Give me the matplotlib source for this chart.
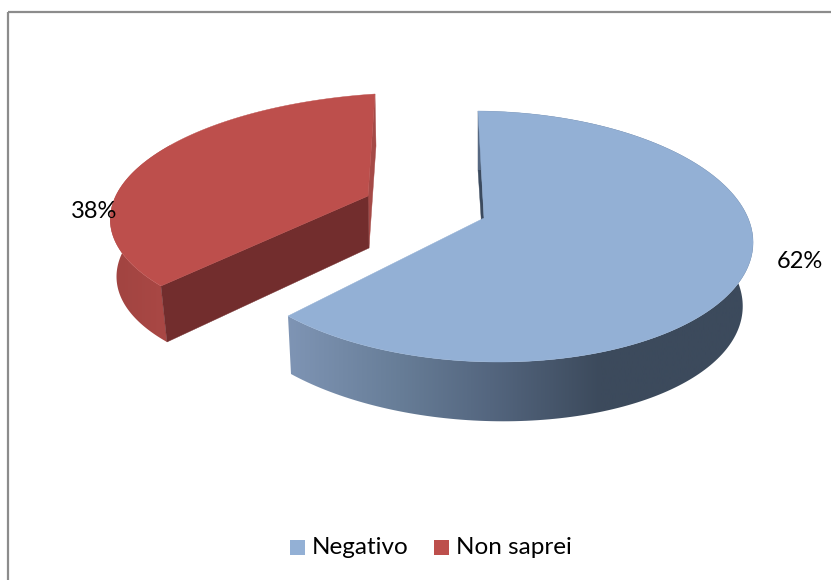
import matplotlib
matplotlib.use('Agg')
import matplotlib.pyplot as plt
from matplotlib.colors import LinearSegmentedColormap
from matplotlib.patches import Polygon, Rectangle
import numpy as np

labels = ['Negativo', 'Non saprei']
shares = [62, 38]


def fit_view(pic):
    # homography from pie plane (centre, 12 o'clock, slice end, side point) to the picture
    src, dst = zip(*pic)
    rows, rhs = [], []
    for (x, y), (u, v) in zip(src, dst):
        rows.append([x, y, 1, 0, 0, 0, -u * x, -u * y])
        rows.append([0, 0, 0, x, y, 1, -v * x, -v * y])
        rhs += [u, v]
    h = np.linalg.solve(np.array(rows, float), np.array(rhs, float))
    return np.append(h, 1).reshape(3, 3)


def rim(deg):
    t = np.radians(deg)
    return np.array([np.sin(t), np.cos(t)])


def project(h, pts):
    pts = np.atleast_2d(pts)
    p = h @ np.c_[pts, np.ones(len(pts))].T
    return (p[:2] / p[2]).T


def arc(h, start, stop):
    return project(h, np.array([rim(a) for a in np.linspace(start, stop, 200)]))


cut = shares[0] / sum(shares) * 360

top_a = fit_view([((0, 0), (484, 218)), (rim(0), (478, 111)), (rim(cut), (288, 316)), (rim(90), (749, 220.5))])
low_a = fit_view([((0, 0), (485, 278)), (rim(0), (478, 170)), (rim(cut), (291, 374)), (rim(90), (739, 285))])
top_b = fit_view([((0, 0), (368, 196)), (rim(0), (375, 94)), (rim(cut), (161, 286)), (rim(270), (114, 200))])
low_b = fit_view([((0, 0), (369, 248)), (rim(0), (376, 146)), (rim(cut), (167, 342)), (rim(270), (120, 258))])

fig = plt.figure(figsize=(8.31, 5.8), dpi=100)
ax = fig.add_axes([0, 0, 1, 1])

ax.add_patch(Rectangle((8, 12), 900, 700, fill=False, ec='#8c8c8c', lw=1.6))


def cut_face(top, low, angle, color, zorder=1):
    a = project(top, [(0, 0), rim(angle)])
    b = project(low, [rim(angle), (0, 0)])
    ax.add_patch(Polygon(np.r_[a, b], fc=color, ec=color, lw=0.3, zorder=zorder))


def outer_wall(top, low, start, stop, stops, zorder):
    # horizontal gradient clipped to the band between the two rims
    wall = Polygon(np.r_[arc(top, start, stop), arc(low, stop, start)], fc='none', ec='none', zorder=zorder)
    ax.add_patch(wall)
    x0, x1 = stops[0][0], stops[-1][0]
    cmap = LinearSegmentedColormap.from_list('wall', [((x - x0) / (x1 - x0), c) for x, c in stops])
    im = ax.imshow(np.linspace(0, 1, 256).reshape(1, -1), cmap=cmap, extent=(x0, x1, 580, 0),
                   aspect='auto', zorder=zorder)
    im.set_clip_path(wall)


def top_face(top, start, stop, color, zorder):
    pts = np.r_[project(top, [(0, 0)]), arc(top, start, stop)]
    ax.add_patch(Polygon(pts, fc=color, ec=color, lw=0.3, zorder=zorder))


# red slice
cut_face(top_b, low_b, 360, '#a54a47')
outer_wall(top_b, low_b, cut, 360, [(100, '#9f4340'), (170, '#aa4845')], 1.1)
cut_face(top_b, low_b, cut, '#722d2d', zorder=1.2)
top_face(top_b, cut, 360, '#bd4f4c', 1.3)

# blue slice
cut_face(top_a, low_a, 0, '#3b4a5e')
outer_wall(top_a, low_a, 0, cut, [(285, '#7f95b5'), (400, '#677d97'), (490, '#54667f'), (600, '#3c4a5c'),
                                  (760, '#3c4a5c')], 1.4)
top_face(top_a, 0, cut, '#93b0d5', 1.5)

font = 'Lato'
ax.text(800, 261, f'{shares[0]}%', ha='center', va='center', fontsize=17, family=font, color='black', zorder=3)
ax.text(94, 211, f'{shares[1]}%', ha='center', va='center', fontsize=17, family=font, color='black', zorder=3)

ax.add_patch(Rectangle((290, 540), 15, 15, fc='#93b0d5', ec='none'))
ax.add_patch(Rectangle((434, 540), 15, 15, fc='#bd4f4c', ec='none'))
ax.text(312, 547, labels[0], ha='left', va='center', fontsize=17.5, family=font, color='black', zorder=3)
ax.text(456, 547, labels[1], ha='left', va='center', fontsize=17.5, family=font, color='black', zorder=3)

ax.set_xlim(0, 831)
ax.set_ylim(580, 0)
ax.axis('off')

fig.savefig('out.png', dpi=100)
